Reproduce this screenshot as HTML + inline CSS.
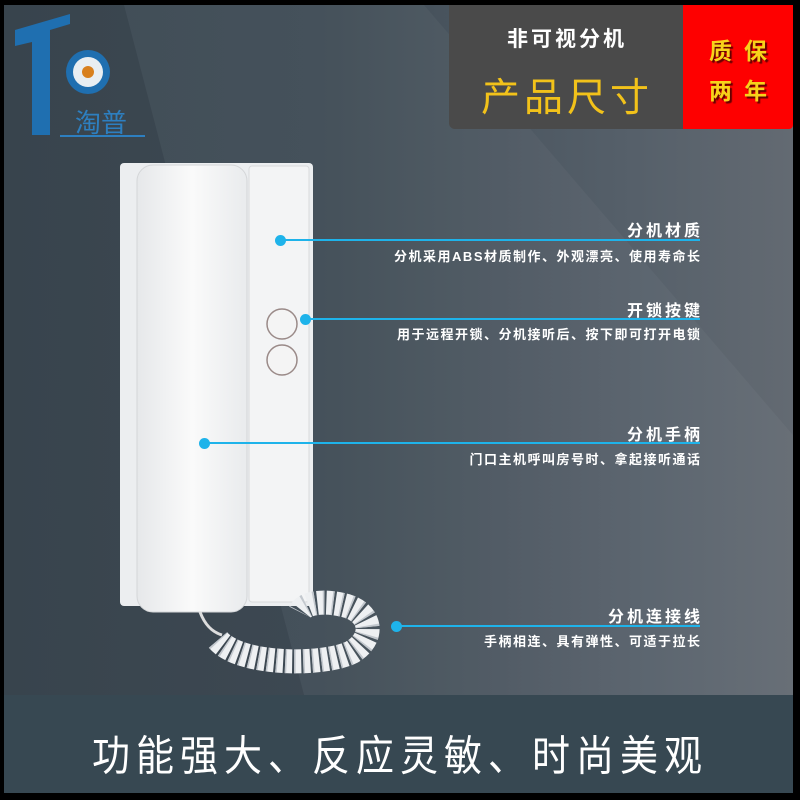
<!DOCTYPE html>
<html><head><meta charset="utf-8"><style>
*{margin:0;padding:0;box-sizing:border-box}
body{width:800px;height:800px;background:#000;position:relative;overflow:hidden;font-family:"Liberation Sans","Noto Sans CJK SC",sans-serif}
.abs{position:absolute}
#bg{left:4px;top:5px;width:789px;height:690px;background:linear-gradient(90deg,#3a4750 0%,#3f4b55 40%,#56606a 80%,#636a72 100%)}
#bot{left:4px;top:695px;width:789px;height:98px;background:#374852}
.t{color:#fff;font-weight:bold;position:absolute;right:100px;text-align:right;white-space:nowrap}
.ti{font-size:16px;letter-spacing:3px;margin-right:-3px}
.sub{font-size:13px;letter-spacing:1.5px;margin-right:-1.5px}
.line{position:absolute;height:2px;background:#1eb3ea}
.dot{position:absolute;width:11px;height:11px;border-radius:50%;background:#1eb3ea}
</style></head><body>
<div id="bg" class="abs"></div>
<svg class="abs" style="left:4px;top:5px" width="789" height="690"><polygon points="120,0 420,0 789,430 789,690 300,690" fill="#ffffff" opacity="0.035"/><polygon points="0,0 120,0 300,690 0,690" fill="#000" opacity="0.03"/></svg>
<div id="bot" class="abs"></div>

<!-- logo -->
<svg class="abs" style="left:10px;top:10px" width="140" height="130">
<polygon points="5,20 60,4 60,14 40,20 40,125 22,125 22,32 5,36" fill="#1f6fb0"/>
<circle cx="78" cy="62" r="22" fill="#1f6fb0"/>
<circle cx="78" cy="62" r="15" fill="#e8eef2"/>
<circle cx="78" cy="62" r="6" fill="#d8801e"/>
<text x="65" y="122" font-size="26" fill="#2d7fc0" font-family="Noto Sans CJK SC,sans-serif">淘普</text>
<line x1="50" y1="126" x2="135" y2="126" stroke="#2d7fc0" stroke-width="2"/>
</svg>

<!-- header boxes -->
<div class="abs" style="left:449px;top:5px;width:236px;height:124px;background:#4a4a4a;border-radius:0 0 0 6px"></div>
<div class="abs" style="left:683px;top:5px;width:110px;height:124px;background:#fe0000;border-radius:0 0 4px 0"></div>
<div class="abs" style="left:449px;top:23px;width:236px;text-align:center;color:#fff;font-weight:bold;font-size:21px;letter-spacing:3px">非可视分机</div>
<div class="abs" style="left:449px;top:67px;width:236px;text-align:center;color:#f2c21a;font-size:39px;letter-spacing:4px">产品尺寸</div>
<div class="abs" style="left:683px;top:32px;width:110px;text-align:center;color:#f7d21a;font-weight:bold;font-size:23px;letter-spacing:12px;padding-left:12px;text-shadow:2px 2px 1px #600">质保</div>
<div class="abs" style="left:683px;top:72px;width:110px;text-align:center;color:#f7d21a;font-weight:bold;font-size:23px;letter-spacing:12px;padding-left:12px;text-shadow:2px 2px 1px #600">两年</div>

<!-- phone -->
<svg class="abs" style="left:0;top:0" width="800" height="700">
<defs><linearGradient id="w" x1="0" x2="1"><stop offset="0" stop-color="#e6e8ea"/><stop offset="0.5" stop-color="#fafafa"/><stop offset="1" stop-color="#e9ebed"/></linearGradient></defs>
<rect x="120" y="163" width="193" height="443" rx="4" fill="#eceef0"/>
<rect x="249" y="166" width="60" height="436" rx="3" fill="#f3f4f5" stroke="#d8dadc"/>
<rect x="137" y="165" width="110" height="447" rx="16" fill="url(#w)" stroke="#d4d6d8"/>
<circle cx="282" cy="324" r="15" fill="#f4f4f4" stroke="#9a8a88" stroke-width="1.5"/>
<circle cx="282" cy="360" r="15" fill="#f4f4f4" stroke="#9a8a88" stroke-width="1.5"/>
<path d="M200,612 C205,625 212,632 222,635" stroke="#ddd" stroke-width="3" fill="none"/>
<path d="M218,640 C240,666 325,666 352,652 C375,638 372,614 347,606 C325,600 305,602 300,612" fill="none" stroke="#eef0f2" stroke-width="24" stroke-dasharray="7 2"/>
<path d="M218,640 C240,666 325,666 352,652 C375,638 372,614 347,606 C325,600 305,602 300,612" fill="none" stroke="#b8bec4" stroke-width="24" stroke-dasharray="1.5 7.5" opacity="0.8"/>
</svg>

<!-- callouts -->
<div class="dot" style="left:275px;top:235px"></div><div class="line" style="left:280px;top:239px;width:420px"></div>
<div class="t ti" style="top:217px">分机材质</div>
<div class="t sub" style="top:246px">分机采用ABS材质制作、外观漂亮、使用寿命长</div>

<div class="dot" style="left:300px;top:314px"></div><div class="line" style="left:305px;top:318px;width:395px"></div>
<div class="t ti" style="top:297px">开锁按键</div>
<div class="t sub" style="top:324px">用于远程开锁、分机接听后、按下即可打开电锁</div>

<div class="dot" style="left:199px;top:438px"></div><div class="line" style="left:204px;top:442px;width:496px"></div>
<div class="t ti" style="top:421px">分机手柄</div>
<div class="t sub" style="top:449px">门口主机呼叫房号时、拿起接听通话</div>

<div class="dot" style="left:391px;top:621px"></div><div class="line" style="left:396px;top:625px;width:304px"></div>
<div class="t ti" style="top:603px">分机连接线</div>
<div class="t sub" style="top:631px">手柄相连、具有弹性、可适于拉长</div>

<div class="abs" style="left:92px;top:722px;color:#fff;font-size:38px;letter-spacing:6px;white-space:nowrap;transform:scaleY(1.1);transform-origin:left top">功能强大、反应灵敏、时尚美观</div>
</body></html>
